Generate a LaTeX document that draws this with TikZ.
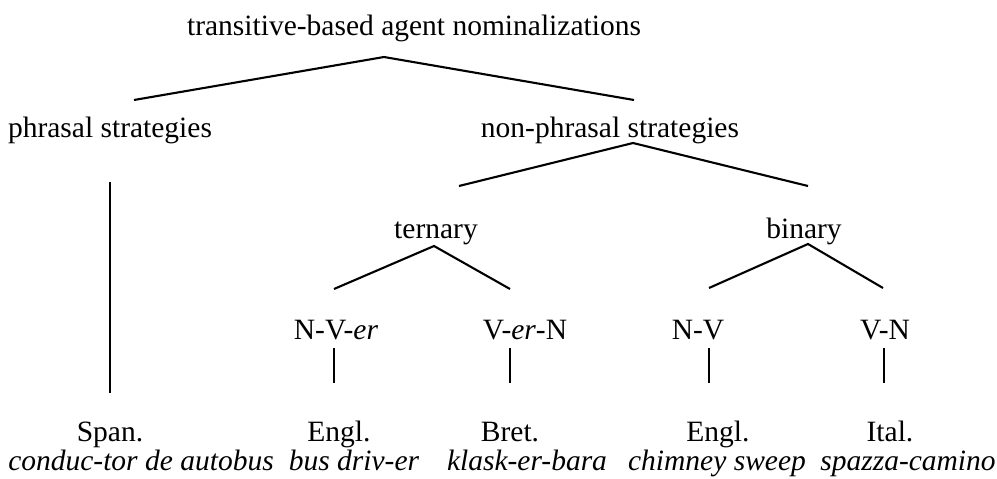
\documentclass[tikz,border=0pt]{standalone}
\usepackage{fontspec}
\setmainfont{Liberation Serif}
\begin{document}
\begin{tikzpicture}[x=1pt,y=-1pt,
  lbl/.style={anchor=base,inner sep=0pt,font=\fontsize{29.5pt}{35pt}\selectfont},
  ex/.style={lbl,font=\fontsize{29.5pt}{35pt}\selectfont\itshape},
  edge/.style={line width=2.1pt},
  leaf/.style={line width=1.6pt}]
\useasboundingbox (0,0) rectangle (997,479);
% labels
\node[lbl] (root) at (414,35) {transitive-based agent nominalizations};
\node[lbl] (phr) at (110,137) {phrasal strategies};
\node[lbl] (nphr) at (610,137) {non-phrasal strategies};
\node[lbl] (tern) at (436,238) {ternary};
\node[lbl] (bin) at (804,238) {binary};
\node[lbl] (nver) at (336,339) {N-V-\textit{er}};
\node[lbl] (vern) at (525,339) {V-\textit{er}-N};
\node[lbl] (nv) at (698,339) {N-V};
\node[lbl] (vn) at (885,339) {V-N};
\node[lbl] (span) at (110,441) {Span.};
\node[lbl] (engA) at (339,441) {Engl.};
\node[lbl] (bret) at (510,441) {Bret.};
\node[lbl] (engB) at (718,441) {Engl.};
\node[lbl] (ital) at (890,441) {Ital.};
\node[ex] (exA) at (141,470) {conduc-tor de autobus};
\node[ex] (exB) at (354,470) {bus driv-er};
\node[ex] (exC) at (527,470) {klask-er-bara};
\node[ex] (exD) at (717,470) {chimney sweep};
\node[ex] (exE) at (908,470) {spazza-camino};
% connector end points
\coordinate (rootA) at (384,57);
\coordinate (phrT) at (134,100);
\coordinate (nphrT) at (634,100);
\coordinate (phrB) at (110,182);
\coordinate (spanT) at (110,393);
\coordinate (nphrA) at (633,143);
\coordinate (ternT) at (459,186);
\coordinate (binT) at (808,186);
\coordinate (ternA) at (434,246);
\coordinate (nverT) at (334,289);
\coordinate (vernT) at (510,289);
\coordinate (binA) at (808,244);
\coordinate (nvT) at (709,288);
\coordinate (vnT) at (883,288);
\coordinate (nverB) at (334,348);
\coordinate (engAT) at (334,383);
\coordinate (vernB) at (510,348);
\coordinate (bretT) at (510,383);
\coordinate (nvB) at (709,348);
\coordinate (engBT) at (709,383);
\coordinate (vnB) at (884,348);
\coordinate (italT) at (884,383);
% connectors
\draw[edge] (phrT) -- (rootA) -- (nphrT);
\draw[edge] (phrB) -- (spanT);
\draw[edge] (ternT) -- (nphrA) -- (binT);
\draw[edge] (nverT) -- (ternA) -- (vernT);
\draw[edge] (nvT) -- (binA) -- (vnT);
\draw[leaf] (nverB) -- (engAT);
\draw[leaf] (vernB) -- (bretT);
\draw[leaf] (nvB) -- (engBT);
\draw[leaf] (vnB) -- (italT);
\end{tikzpicture}
\end{document}
